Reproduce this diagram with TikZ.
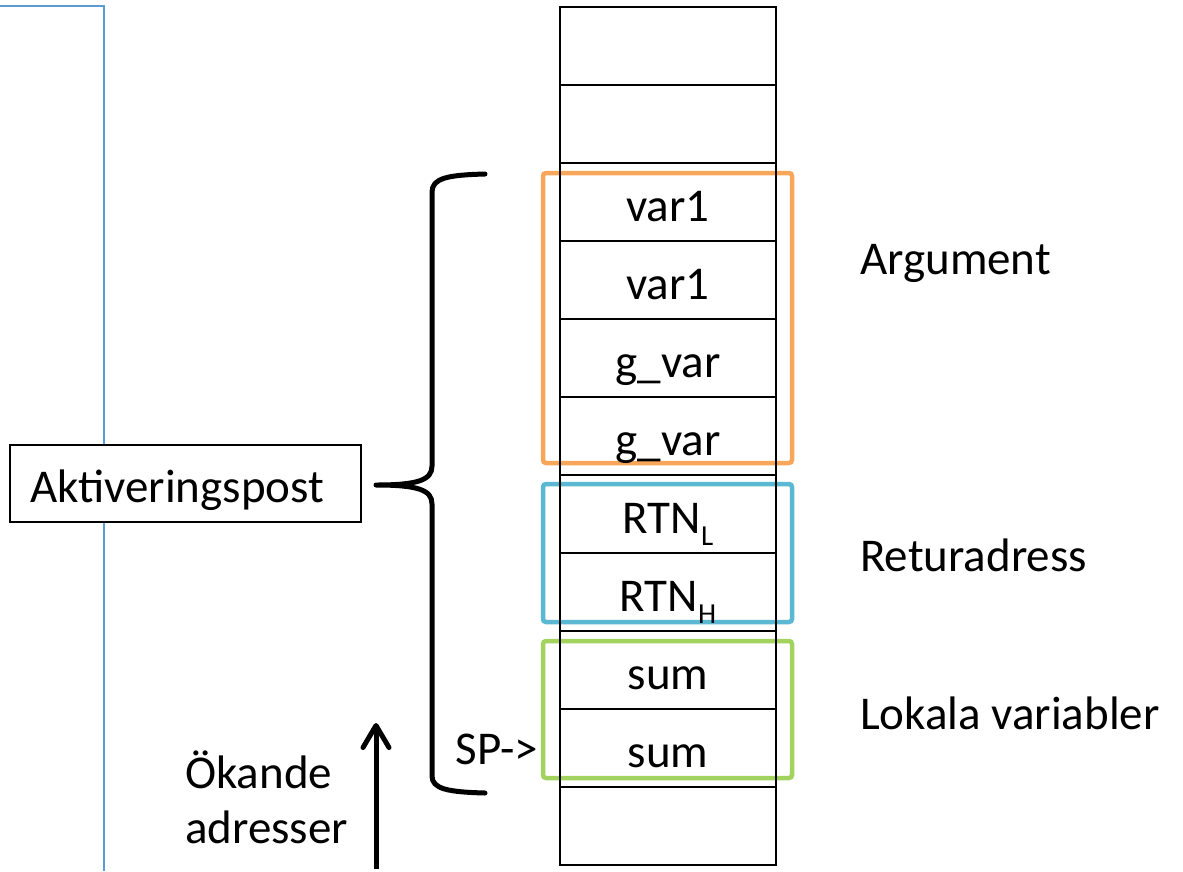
\documentclass[tikz,border=0pt]{standalone}
\usepackage{fontspec}
\setmainfont{Carlito}
\usetikzlibrary{arrows.meta}
\definecolor{orgrp}{HTML}{F8A65A}
\definecolor{blgrp}{HTML}{5BB8D2}
\definecolor{grgrp}{HTML}{A2D35E}
\definecolor{frameblue}{HTML}{5B9BD5}
\begin{document}
\begin{tikzpicture}[x=1pt,y=-1pt,
  big/.style={font=\fontsize{47}{56}\selectfont},
  cell/.style={big,draw=black,line width=2.6pt,minimum width=216pt,minimum height=78pt,inner sep=0pt,text height=40pt,text depth=2pt},
  grp/.style={line width=4.5pt,rounded corners=3pt},
  lbl/.style={big,anchor=base west,inner sep=0pt},
  brace/.style={line width=5pt,line cap=round,line join=round}]
\useasboundingbox (0,0) rectangle (1183,871);
% left frame line
\draw[frameblue,line width=2.2pt] (104,871) -- (104,6) -- (0,6);
% group rectangles
\draw[grp,orgrp] (543,173) rectangle (792,463);
\draw[grp,blgrp] (543,484) rectangle (792,622);
\draw[grp,grgrp] (543,641) rectangle (792,778);
% stack cells
\node[cell] (c1) at (668,46) {};
\node[cell] (c2) at (668,124) {};
\node[cell] (c3) at (668,202) {var1};
\node[cell] (c4) at (668,280) {var1};
\node[cell] (c5) at (668,358) {g\_var};
\node[cell] (c6) at (668,436) {g\_var};
\node[cell] (c7) at (668,514) {RTN\raisebox{-12pt}{\fontsize{29}{30}\selectfont L}};
\node[cell] (c8) at (668,592) {RTN\raisebox{-12pt}{\fontsize{29}{30}\selectfont H}};
\node[cell] (c9) at (668,670) {sum};
\node[cell] (c10) at (668,748) {sum};
\node[cell] (c11) at (668,826) {};
% group labels
\node[lbl] (arg) at (860,274) {Argument};
\node[lbl] (ret) at (860,571) {Returadress};
\node[lbl] (lok) at (860,729) {Lokala variabler};
% SP pointer
\node[big,anchor=base east,inner sep=0pt] (sp) at (538,764) {SP->};
% brace
\draw[brace] (485,174) .. controls (448,175) and (432,178) .. (432,192)
  -- (432,466) .. controls (432,480) and (418,485) .. (376,485)
  .. controls (418,485) and (432,490) .. (432,504)
  -- (432,776) .. controls (432,789) and (448,792) .. (485,793);
% Aktiveringspost box
\node[big,draw=black,fill=white,line width=2pt,text width=311pt,align=left,inner xsep=20pt,inner ysep=0pt,minimum height=77pt,text height=40pt,text depth=2pt] (akt) at (185.5,483.5) {Aktiveringspost};
% increasing addresses
\node[lbl] (ok1) at (185,788) {Ökande};
\node[lbl] (ok2) at (185,843) {adresser};
\coordinate (a0) at (376,869);
\coordinate (a1) at (376,723);
\draw[line width=5pt,-{Straight Barb[length=22pt,width=26pt,round]}] (a0) -- (a1);
\end{tikzpicture}
\end{document}
